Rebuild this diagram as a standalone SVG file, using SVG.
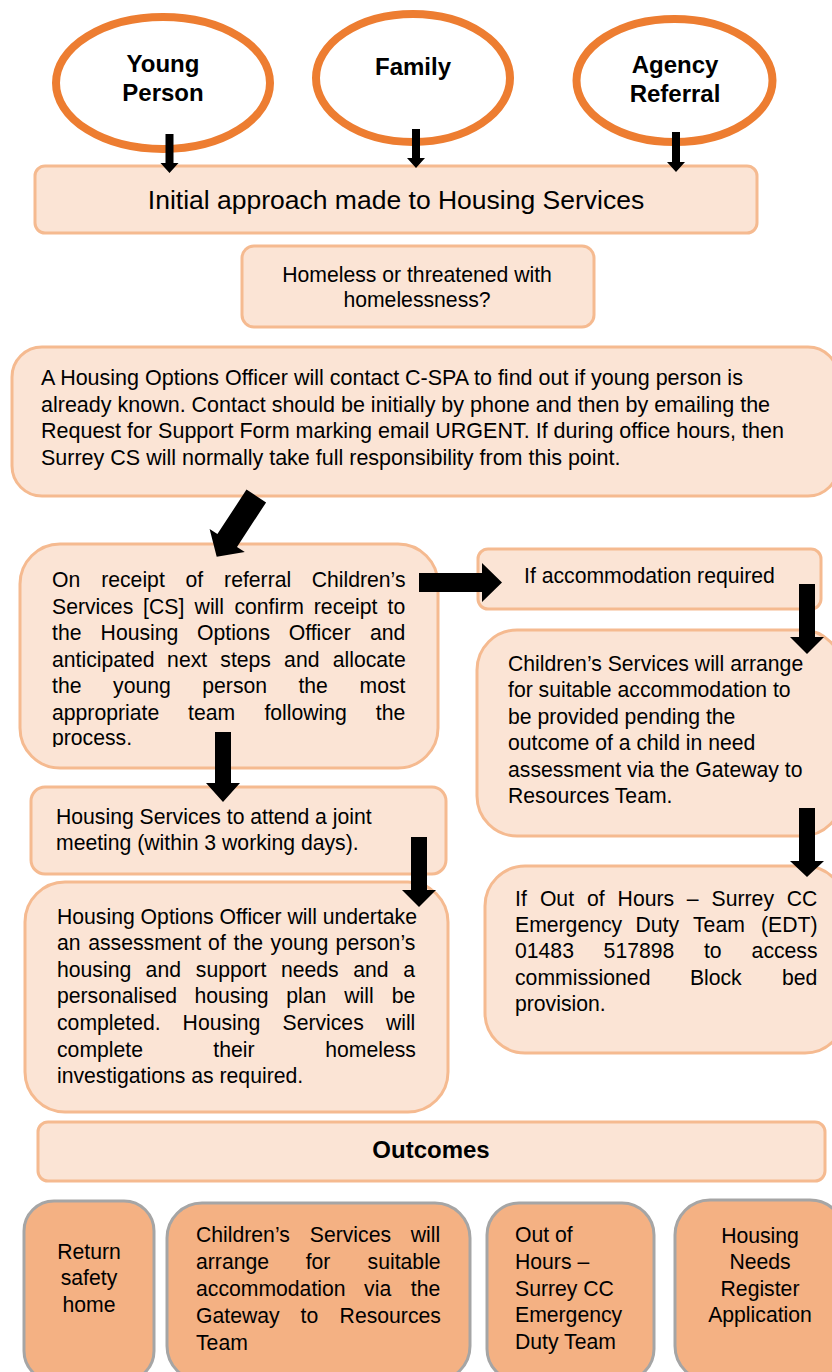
<svg xmlns="http://www.w3.org/2000/svg" width="832" height="1372" viewBox="0 0 832 1372">
<defs>
<style>
.box{fill:#FBE4D5;stroke:#F5BA90;stroke-width:3}
.out{fill:#F4B183;stroke:#A5A5A5;stroke-width:3}
.ell{fill:#FFFFFF;stroke:#ED7D31;stroke-width:8}
text{font-family:"Liberation Sans",Arial,sans-serif;fill:#000000}
.t{font-size:21.2px}
.w{font-size:21.5px}
.b{font-size:24px;font-weight:bold}
.big{font-size:26.5px}
.c{text-anchor:middle}
.e{text-anchor:end}
.arr{fill:#000000;stroke:none}
</style>
<clipPath id="clipReceipt"><rect x="20" y="544" width="418" height="203"/></clipPath>
</defs>
<rect width="832" height="1372" fill="#FFFFFF"/>

<g id="node-young-person">
<ellipse class="ell" cx="163" cy="83" rx="107" ry="66"/>
<text class="b c" x="163" y="72">Young</text>
<text class="b c" x="163" y="101">Person</text>
</g>
<g id="node-family">
<ellipse class="ell" cx="413" cy="78" rx="97" ry="64"/>
<text class="b c" x="413" y="75">Family</text>
</g>
<g id="node-agency-referral">
<ellipse class="ell" cx="674.5" cy="80.5" rx="98" ry="61.5"/>
<text class="b c" x="675" y="73">Agency</text>
<text class="b c" x="675" y="102">Referral</text>
</g>

<g id="node-initial-approach">
<rect class="box" x="35" y="166" width="722" height="67" rx="10"/>
<text class="big c" x="396" y="209">Initial approach made to Housing Services</text>
</g>

<g id="node-homeless">
<rect class="box" x="242" y="246" width="352" height="81" rx="12"/>
<text class="t c" x="417" y="282">Homeless or threatened with</text>
<text class="t c" x="417" y="307">homelessness?</text>
</g>

<g id="node-cspa">
<rect class="box" x="12" y="347" width="826" height="149" rx="30"/>
<text class="w" x="41" y="385">A Housing Options Officer will contact C-SPA to find out if young person is</text>
<text class="w" x="41" y="411.5">already known. Contact should be initially by phone and then by emailing the</text>
<text class="w" x="41" y="438">Request for Support Form marking email URGENT. If during office hours, then</text>
<text class="w" x="41" y="464.5">Surrey CS will normally take full responsibility from this point.</text>
</g>

<g id="node-receipt">
<rect class="box" x="20" y="544" width="418" height="224" rx="40"/>
<g clip-path="url(#clipReceipt)">
<text class="t" y="587"><tspan x="52">On</tspan><tspan x="101.2">receipt</tspan><tspan x="185.4">of</tspan><tspan x="224.1">referral</tspan><tspan x="311.7">Children’s</tspan></text>
<text class="t" y="613.5"><tspan x="52">Services</tspan><tspan x="143.1">[CS]</tspan><tspan x="194.6">will</tspan><tspan x="234.4">confirm</tspan><tspan x="313.8">receipt</tspan><tspan x="387.5">to</tspan></text>
<text class="t" y="640"><tspan x="52">the</tspan><tspan x="100.6">Housing</tspan><tspan x="197">Options</tspan><tspan x="288.7">Officer</tspan><tspan x="370">and</tspan></text>
<text class="t" y="666.5"><tspan x="52">anticipated</tspan><tspan x="167.1">next</tspan><tspan x="220.3">steps</tspan><tspan x="284.1">and</tspan><tspan x="332.7">allocate</tspan></text>
<text class="t" y="693"><tspan x="52">the</tspan><tspan x="113.1">young</tspan><tspan x="202.3">person</tspan><tspan x="298.4">the</tspan><tspan x="359.5">most</tspan></text>
<text class="t" y="719.5"><tspan x="52">appropriate</tspan><tspan x="188">team</tspan><tspan x="264.4">following</tspan><tspan x="375.8">the</tspan></text>
<text class="t" x="52" y="745">process.</text>
</g>
</g>

<g id="node-accommodation-required">
<rect class="box" x="478" y="549" width="343" height="60" rx="10"/>
<text class="t" x="524" y="583">If accommodation required</text>
</g>

<g id="node-cs-arrange">
<rect class="box" x="477" y="630" width="365" height="206" rx="40"/>
<text class="t" x="508" y="670.5">Children’s Services will arrange</text>
<text class="t" x="508" y="697">for suitable accommodation to</text>
<text class="t" x="508" y="723.5">be provided pending the</text>
<text class="t" x="508" y="750">outcome of a child in need</text>
<text class="t" x="508" y="776.5">assessment via the Gateway to</text>
<text class="t" x="508" y="803">Resources Team.</text>
</g>

<g id="node-joint-meeting">
<rect class="box" x="31" y="787" width="415" height="87" rx="14"/>
<text class="t" x="56" y="824">Housing Services to attend a joint</text>
<text class="t" x="56" y="850">meeting (within 3 working days).</text>
</g>

<g id="node-assessment">
<rect class="box" x="25" y="882" width="423" height="230" rx="40"/>
<text class="t" x="57" y="923.5">Housing Options Officer will undertake</text>
<text class="t" y="950"><tspan x="57">an</tspan><tspan x="88.2">assessment</tspan><tspan x="208.1">of</tspan><tspan x="233.5">the</tspan><tspan x="270.6">young</tspan><tspan x="335.6">person’s</tspan></text>
<text class="t" y="976.7"><tspan x="57">housing</tspan><tspan x="145.6">and</tspan><tspan x="195.8">support</tspan><tspan x="280.9">needs</tspan><tspan x="353.2">and</tspan><tspan x="403.3">a</tspan></text>
<text class="t" y="1003.3"><tspan x="57">personalised</tspan><tspan x="194.4">housing</tspan><tspan x="286.2">plan</tspan><tspan x="344.2">will</tspan><tspan x="391.7">be</tspan></text>
<text class="t" y="1030"><tspan x="57">completed.</tspan><tspan x="182.6">Housing</tspan><tspan x="282.5">Services</tspan><tspan x="385.9">will</tspan></text>
<text class="t" y="1056.7"><tspan x="57">complete</tspan><tspan x="213.3">their</tspan><tspan x="325.2">homeless</tspan></text>
<text class="t" x="57" y="1083.3">investigations as required.</text>
</g>

<g id="node-out-of-hours">
<rect class="box" x="485" y="866" width="360" height="187" rx="40"/>
<text class="t" y="905.5"><tspan x="515">If</tspan><tspan x="539.9">Out</tspan><tspan x="586.9">of</tspan><tspan x="617.6">Hours</tspan><tspan x="686.8">–</tspan><tspan x="711.6">Surrey</tspan><tspan x="786.7">CC</tspan></text>
<text class="t" y="932"><tspan x="515">Emergency</tspan><tspan x="635.5">Duty</tspan><tspan x="693">Team</tspan><tspan x="761">(EDT)</tspan></text>
<text class="t" y="958.3"><tspan x="515">01483</tspan><tspan x="603.6">517898</tspan><tspan x="703.9">to</tspan><tspan x="751.6">access</tspan></text>
<text class="t" y="984.6"><tspan x="515">commissioned</tspan><tspan x="689.9">Block</tspan><tspan x="782">bed</tspan></text>
<text class="t" x="515" y="1011">provision.</text>
</g>

<g id="node-outcomes">
<rect class="box" x="38" y="1122" width="787" height="59" rx="10"/>
<text class="b c" x="431" y="1158">Outcomes</text>
</g>

<g id="node-return-home">
<rect class="out" x="24" y="1201" width="130" height="180" rx="30"/>
<text class="t c" x="89" y="1258.5">Return</text>
<text class="t c" x="89" y="1285">safety</text>
<text class="t c" x="89" y="1311.5">home</text>
</g>

<g id="node-outcome-cs">
<rect class="out" x="167" y="1203" width="303" height="178" rx="35"/>
<text class="t" y="1242"><tspan x="196">Children’s</tspan><tspan x="309.8">Services</tspan><tspan x="410.8">will</tspan></text>
<text class="t" y="1269"><tspan x="196">arrange</tspan><tspan x="305.7">for</tspan><tspan x="367.6">suitable</tspan></text>
<text class="t" y="1296"><tspan x="196">accommodation</tspan><tspan x="364.1">via</tspan><tspan x="410.8">the</tspan></text>
<text class="t" y="1323"><tspan x="196">Gateway</tspan><tspan x="300.5">to</tspan><tspan x="339.6">Resources</tspan></text>
<text class="t" x="196" y="1350">Team</text>
</g>

<g id="node-outcome-edt">
<rect class="out" x="487" y="1203" width="167" height="178" rx="32"/>
<text class="t" x="515" y="1242">Out of</text>
<text class="t" x="515" y="1269">Hours –</text>
<text class="t" x="515" y="1296">Surrey CC</text>
<text class="t" x="515" y="1322">Emergency</text>
<text class="t" x="515" y="1349">Duty Team</text>
</g>

<g id="node-housing-register">
<rect class="out" x="675" y="1200" width="170" height="181" rx="35"/>
<text class="t c" x="760" y="1242.5">Housing</text>
<text class="t c" x="760" y="1269">Needs</text>
<text class="t c" x="760" y="1295.5">Register</text>
<text class="t c" x="760" y="1322">Application</text>
</g>

<g id="connectors">
<polygon class="arr" points="165.5,134 173.5,134 173.5,163 178.5,163 169.5,173 160.5,163 165.5,163"/>
<polygon class="arr" points="412,129 420,129 420,158 425,158 416,168 407,158 412,158"/>
<polygon class="arr" points="672,132 680,132 680,162 685,162 676,172 667,162 672,162"/>
<polygon class="arr" points="266.1,502.4 237,546.9 244.8,552 216.7,556.7 209.6,529 217.4,534.1 246.5,489.6"/>
<polygon class="arr" points="419,573 482,573 482,563 502,582.5 482,602 482,592 419,592"/>
<polygon class="arr" points="799,584 815,584 815,637 824,637 807,654 790,637 799,637"/>
<polygon class="arr" points="799,808 815,808 815,861 824,861 807,877 790,861 799,861"/>
<polygon class="arr" points="215,732 231,732 231,783 240,783 223,802 206,783 215,783"/>
<polygon class="arr" points="411,837 427,837 427,890 436,890 419,907 402,890 411,890"/>
</g>
</svg>
